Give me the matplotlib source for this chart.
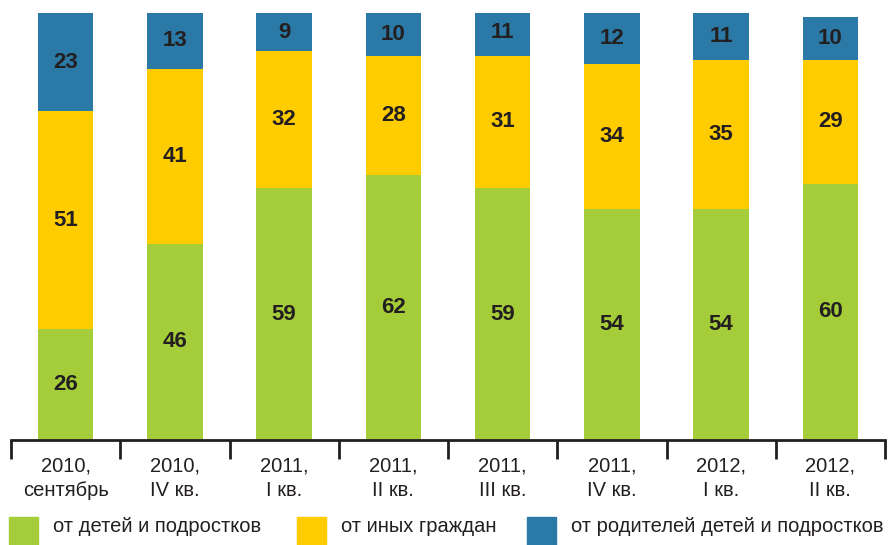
import matplotlib.pyplot as plt
from matplotlib.patches import Rectangle
import numpy as np

plt.rcParams['font.family'] = ['Liberation Sans', 'DejaVu Sans']

periods = ["2010,\nсентябрь", "2010,\nIV кв.", "2011,\nI кв.", "2011,\nII кв.",
           "2011,\nIII кв.", "2011,\nIV кв.", "2012,\nI кв.", "2012,\nII кв."]
children = [26, 46, 59, 62, 59, 54, 54, 60]
citizens = [51, 41, 32, 28, 31, 34, 35, 29]
parents = [23, 13, 9, 10, 11, 12, 11, 10]

series_names = ["от детей и подростков", "от иных граждан",
                "от родителей детей и подростков"]
colors = ["#A5CD39", "#FFCC00", "#2A79A6"]
dark = "#231F20"

fig = plt.figure(figsize=(8.88, 5.45), dpi=100)
ax = fig.add_axes([11 / 888, 105 / 545, 874 / 888, 427 / 545])

x = np.arange(len(periods))
bottom = np.zeros(len(periods))
for vals, col in zip([children, citizens, parents], colors):
    vals = np.array(vals, dtype=float)
    ax.bar(x, vals, width=0.51, bottom=bottom, color=col, edgecolor="none")
    for xi, b, v in zip(x, bottom, vals):
        ax.text(xi, b + v / 2, f"{int(v)}", ha="center", va="center",
                fontsize=16, fontweight="bold", color=dark)
    bottom += vals

ax.set_xlim(-0.5, len(periods) - 0.5)
ax.set_ylim(0, 100)
for s in ["top", "right", "left"]:
    ax.spines[s].set_visible(False)
ax.spines["bottom"].set_color(dark)
ax.spines["bottom"].set_linewidth(2)
ax.set_yticks([])

# ticks at category boundaries, labels at centres
ax.set_xticks(np.arange(-0.5, len(periods)), minor=False)
ax.set_xticklabels([])
ax.tick_params(axis="x", which="major", length=14, width=2, color=dark, direction="out")
ax.set_xticks(x, minor=True)
ax.set_xticklabels(periods, minor=True, fontsize=14.5, color=dark, linespacing=1.35)
ax.tick_params(axis="x", which="minor", length=0, pad=12)

# legend at the bottom
legend_x = [9, 297, 527]
for lx, name, col in zip(legend_x, series_names, colors):
    fig.patches.append(Rectangle((lx / 888, 0), 29 / 888, 28 / 545,
                                 transform=fig.transFigure, color=col))
    fig.text((lx + 44) / 888, 1 - 527 / 545, name, fontsize=14.5, color=dark,
             va="center", ha="left")

fig.savefig("out.png", dpi=100)
